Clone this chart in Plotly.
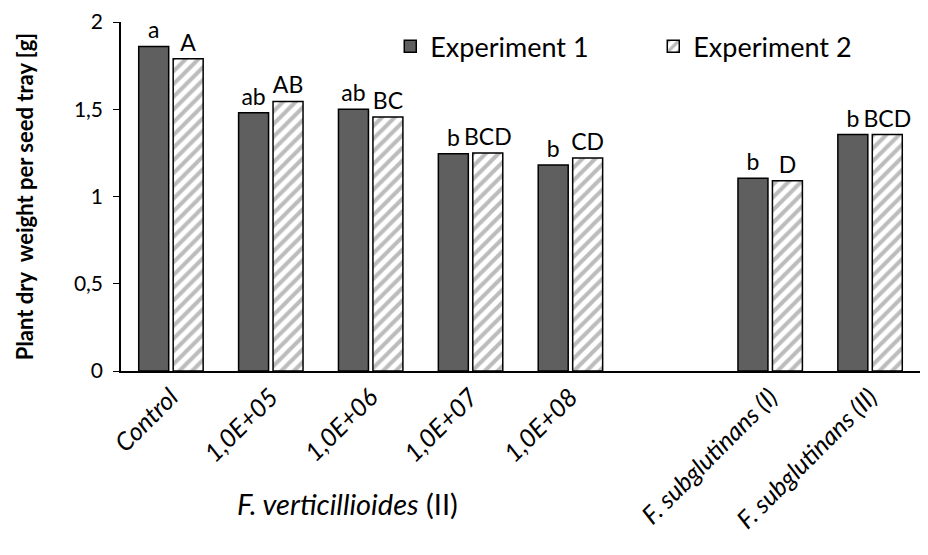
import plotly.graph_objects as go

categories = ["Control", "1,0E+05", "1,0E+06", "1,0E+07", "1,0E+08", " ",
              "F. subglutinans (I)", "F. subglutinans (II)"]
tick_labels = ["<i>Control</i>", "<i>1,0E+05</i>", "<i>1,0E+06</i>", "<i>1,0E+07</i>",
               "<i>1,0E+08</i>", "", "<i>F. subglutinans (I)</i>", "<i>F. subglutinans (II)</i>"]
exp1 = [1.86, 1.48, 1.50, 1.245, 1.18, None, 1.105, 1.355]
exp2 = [1.79, 1.545, 1.455, 1.25, 1.22, None, 1.09, 1.355]
letters1 = ["a", "ab", "ab", "b", "b", "", "b", "b"]
letters2 = ["A", "AB", "BC", "BCD", "CD", "", "D", "BCD"]

FONT = "Lato"

fig = go.Figure()
fig.add_trace(go.Bar(
    x=categories, y=exp1, name="Experiment 1",
    marker=dict(color="#5f5f5f", line=dict(color="black", width=1.5)),
    text=letters1, textposition="outside", cliponaxis=False, constraintext="none",
    textfont=dict(size=23, color="black", family=FONT),
))
fig.add_trace(go.Bar(
    x=categories, y=exp2, name="Experiment 2",
    marker=dict(color="white", line=dict(color="black", width=1.5),
                pattern=dict(shape="/", fgcolor="#7a7a7a", bgcolor="white",
                             size=9, solidity=0.45)),
    text=letters2, textposition="outside", cliponaxis=False, constraintext="none",
    textfont=dict(size=23, color="black", family=FONT),
))

fig.update_layout(
    width=928, height=555,
    margin=dict(l=121, r=8, t=19, b=184),
    plot_bgcolor="white", paper_bgcolor="white",
    separators=", ",
    font=dict(family=FONT, size=20, color="black"),
    barmode="group", bargap=0.31, bargroupgap=0.13,
    showlegend=True,
    legend=dict(orientation="h", x=0.337, y=0.929, xanchor="left", yanchor="middle",
                font=dict(size=27, family=FONT), entrywidth=218,
                bgcolor="rgba(0,0,0,0)"),
)
fig.update_yaxes(
    range=[0, 2], tickvals=[0, 0.5, 1, 1.5, 2], tickformat=".1~f",
    showgrid=False, zeroline=False,
    showline=True, linecolor="black", linewidth=1.5,
    ticks="outside", ticklen=6, tickcolor="black", ticklabelstandoff=6,
    tickfont=dict(size=21, family=FONT),
    title=dict(text="<b>Plant dry  weight per seed tray [g]</b>",
               font=dict(size=22, family=FONT), standoff=34),
)
fig.update_xaxes(
    categoryorder="array", categoryarray=categories,
    tickvals=categories, ticktext=tick_labels, tickangle=-45,
    showline=True, linecolor="black", linewidth=1.5,
    ticks="", showgrid=False,
    tickfont=dict(size=25, family=FONT),
)
fig.add_annotation(
    text="<i>F. verticillioides</i> (II)", x=0.283, xref="paper", xanchor="center",
    y=-0.38, yref="paper", yanchor="middle", showarrow=False,
    font=dict(size=29, family=FONT, color="black"),
)
fig.write_html("out.html")
